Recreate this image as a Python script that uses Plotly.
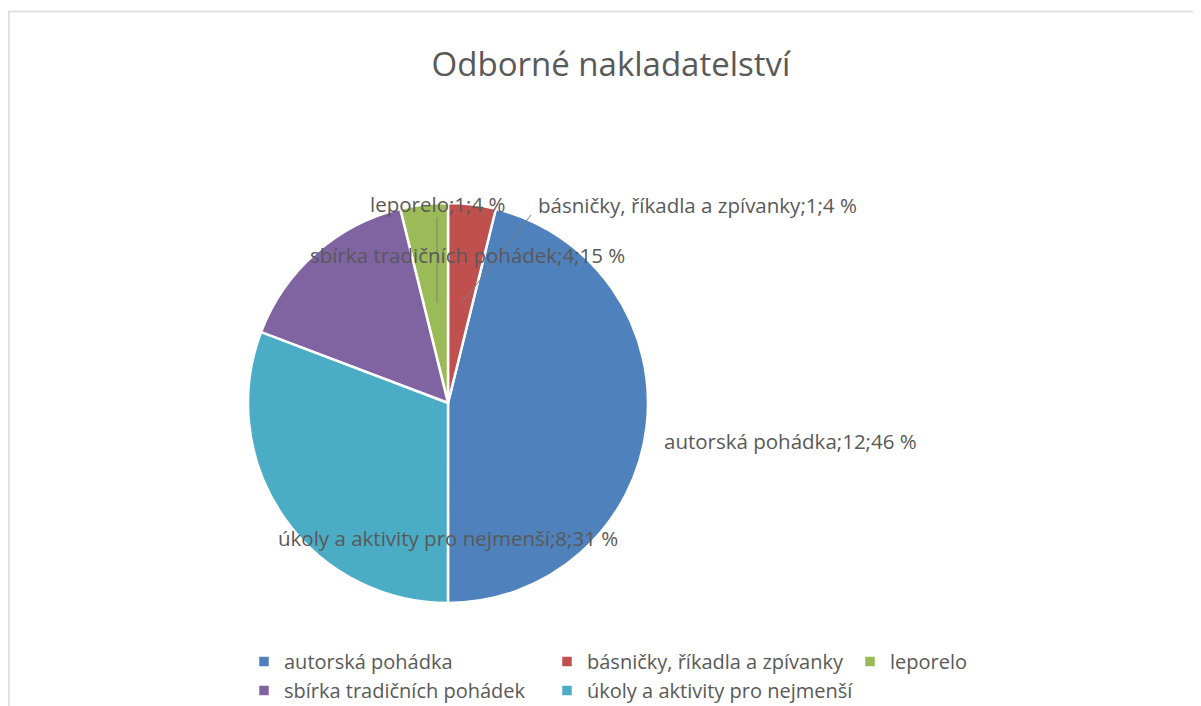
import plotly.graph_objects as go

# ---- data ----
categories = ["autorská pohádka", "básničky, říkadla a zpívanky", "leporelo",
              "sbírka tradičních pohádek", "úkoly a aktivity pro nejmenší"]
values = [12, 1, 1, 4, 8]
colors = ["#4F81BD", "#C0504D", "#9BBB59", "#8064A2", "#4BACC6"]
title_text = "Odborné nakladatelství"

# ---- layout helpers (positions given in reference-screen px) ----
OFF = 8                     # page body margin
W, H = 1201 - OFF, 706 - OFF
B = 66                      # bottom margin (legend lives there)
PH = H - B                  # plot-area height in px
FONT = "Open Sans"
TXT = "#595959"
label_px = [(790, 441), (697, 205), (437, 204), (467, 255), (448, 538)]

def pxx(x):
    return (x - OFF) / W

def pxy(y):
    return 1 - (y - OFF) / PH

total = sum(values)

fig = go.Figure()
fig.add_trace(go.Pie(
    labels=categories,
    values=values,
    sort=False,
    direction="counterclockwise",
    rotation=13.85,
    marker=dict(colors=colors, line=dict(color="white", width=2.5)),
    textinfo="none",
    hoverinfo="label+value+percent",
    domain=dict(x=[pxx(248), pxx(648)], y=[pxy(603), pxy(203)]),
    showlegend=True,
))

annotations = []
for cat, val, (lx, ly) in zip(categories, values, label_px):
    annotations.append(dict(
        x=pxx(lx), y=pxy(ly), xref="paper", yref="paper", showarrow=False,
        text=f"{cat};{val};{round(val / total * 100)} %",
        font=dict(family=FONT, size=20.5, color=TXT),
        xanchor="center", yanchor="middle",
    ))

shapes = [
    # chart border
    dict(type="rect", xref="paper", yref="paper",
         x0=pxx(9), x1=pxx(1215), y0=pxy(720), y1=pxy(11.5),
         line=dict(color="#D9D9D9", width=1.5), fillcolor="rgba(0,0,0,0)", layer="below"),
    # leader lines
    dict(type="line", xref="paper", yref="paper",
         x0=pxx(437), x1=pxx(437), y0=pxy(217), y1=pxy(303),
         line=dict(color="#7F7F7F", width=1)),
    dict(type="line", xref="paper", yref="paper",
         x0=pxx(531), x1=pxx(462), y0=pxy(215), y1=pxy(303),
         line=dict(color="#7F7F7F", width=1)),
]

fig.update_layout(
    width=W, height=H,
    margin=dict(l=0, r=0, t=0, b=B, autoexpand=False),
    paper_bgcolor="white", plot_bgcolor="white",
    title=dict(text=title_text, x=pxx(611), xanchor="center",
               y=1 - (64 - OFF) / H, yanchor="middle",
               font=dict(family=FONT, size=33, color=TXT)),
    legend=dict(orientation="h", x=pxx(244), xanchor="left",
                y=pxy(642), yanchor="top",
                entrywidth=258, entrywidthmode="pixels",
                font=dict(family=FONT, size=20, color=TXT),
                traceorder="normal"),
    annotations=annotations,
    shapes=shapes,
)

fig.write_html("out.html")
